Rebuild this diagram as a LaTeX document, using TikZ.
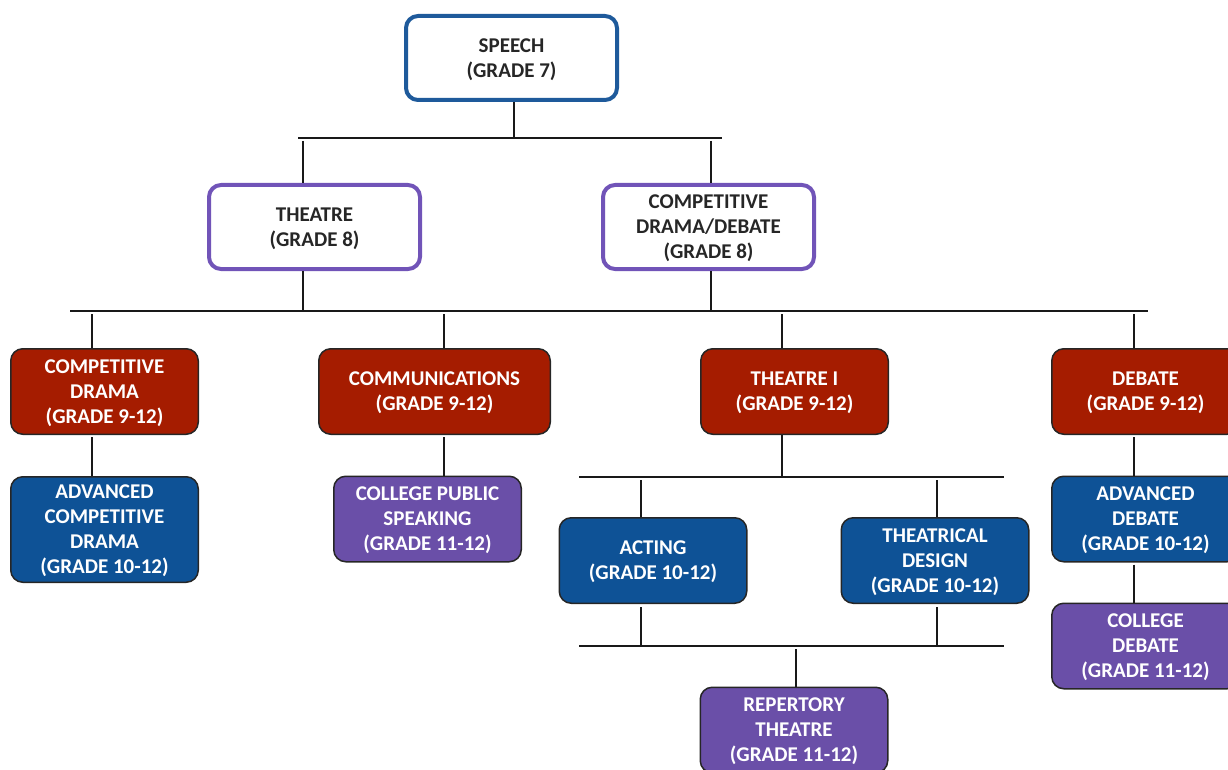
\documentclass[tikz,border=0pt]{standalone}
\usepackage{fontspec}
\setmainfont{Carlito}
\definecolor{speechblue}{RGB}{30,90,155}
\definecolor{rowpurple}{RGB}{113,84,184}
\definecolor{coursered}{RGB}{165,28,0}
\definecolor{courseblue}{RGB}{14,82,150}
\definecolor{coursepurple}{RGB}{106,79,168}
\definecolor{labelgrey}{RGB}{38,38,38}
\begin{document}
\begin{tikzpicture}[x=1pt, y=-1pt, line join=round,
		box/.style={rectangle, rounded corners=12pt, align=center, inner sep=0pt, text depth=-3pt, font=\bfseries\fontsize{21}{25}\selectfont},
		head/.style={box, draw=speechblue, line width=4pt, fill=white, text=labelgrey, minimum width=211pt, minimum height=84pt},
		grade8/.style={head, draw=rowpurple},
		course/.style={box, draw=black!85, line width=1.5pt, text=white, minimum width=187.5pt, minimum height=85.5pt},
		redcourse/.style={course, fill=coursered},
		bluecourse/.style={course, fill=courseblue},
		purplecourse/.style={course, fill=coursepurple},
		link/.style={draw=black!90, line width=1.4pt}]
	\useasboundingbox (0,0) rectangle (1228,770);
	\node[head] (speech) at (511.5,58) {SPEECH\\(GRADE 7)};
	\node[grade8] (theatre) at (314.5,227) {THEATRE\\(GRADE 8)};
	\node[grade8] (compdd) at (708.5,227) {COMPETITIVE\\DRAMA/DEBATE\\(GRADE 8)};
	\node[redcourse] (compdrama) at (104.5,391.5) {COMPETITIVE\\DRAMA\\(GRADE 9-12)};
	\node[redcourse, minimum width=231.5pt] (comms) at (434.5,391.5) {COMMUNICATIONS\\(GRADE 9-12)};
	\node[redcourse] (theatrei) at (794.5,391.5) {THEATRE I\\(GRADE 9-12)};
	\node[redcourse] (debate) at (1145.5,391.5) {DEBATE\\(GRADE 9-12)};
	\node[bluecourse, minimum height=105.5pt] (advcomp) at (104.5,529.5) {ADVANCED\\COMPETITIVE\\DRAMA\\(GRADE 10-12)};
	\node[purplecourse] (cps) at (427.5,519) {COLLEGE PUBLIC\\SPEAKING\\(GRADE 11-12)};
	\node[bluecourse] (acting) at (653,560.5) {ACTING\\(GRADE 10-12)};
	\node[bluecourse] (design) at (935,560.5) {THEATRICAL\\DESIGN\\(GRADE 10-12)};
	\node[purplecourse] (repertory) at (794,730) {REPERTORY\\THEATRE\\(GRADE 11-12)};
	\node[bluecourse] (advdebate) at (1145.5,519) {ADVANCED\\DEBATE\\(GRADE 10-12)};
	\node[purplecourse] (colldebate) at (1145.5,646) {COLLEGE\\DEBATE\\(GRADE 11-12)};
	\coordinate (bus1w) at (298,138); \coordinate (bus1e) at (722,138);
	\coordinate (bus2w) at (70,311); \coordinate (bus2e) at (1148,311);
	\coordinate (bus3w) at (579,477); \coordinate (bus3e) at (1004,477);
	\coordinate (bus4w) at (579,646); \coordinate (bus4e) at (1004,646);
	\foreach \i in {1,...,4} \draw[link] (bus\i w) -- (bus\i e);
	\draw[link] ([xshift=2.5pt]speech.south) -- ([xshift=2.5pt]speech.south |- bus1w);
	\foreach \n/\d in {theatre/-11.5pt, compdd/2.5pt} {
		\draw[link, shorten <=3pt] ([xshift=\d]\n.north |- bus1w) -- ([xshift=\d]\n.north);
		\draw[link] ([xshift=\d]\n.south) -- ([xshift=\d]\n.south |- bus2w);
	}
	\foreach \n/\d in {compdrama/-12.5pt, comms/9.5pt, theatrei/-12.5pt, debate/-11.5pt}
		\draw[link, shorten <=3pt] ([xshift=\d]\n.north |- bus2w) -- ([xshift=\d]\n.north);
	\foreach \a/\b/\d in {compdrama/advcomp/-12.5pt, comms/cps/9.5pt, debate/advdebate/-11.5pt, advdebate/colldebate/-11.5pt}
		\draw[link, shorten <=2pt] ([xshift=\d]\a.south) -- ([xshift=\d]\a.south |- \b.north);
	\draw[link] ([xshift=-12.5pt]theatrei.south) -- ([xshift=-12.5pt]theatrei.south |- bus3w);
	\foreach \n/\d in {acting/-12pt, design/2pt} {
		\draw[link, shorten <=3pt] ([xshift=\d]\n.north |- bus3w) -- ([xshift=\d]\n.north);
		\draw[link, shorten <=3pt] ([xshift=\d]\n.south) -- ([xshift=\d]\n.south |- bus4w);
	}
	\draw[link, shorten <=3pt] ([xshift=2pt]repertory.north |- bus4w) -- ([xshift=2pt]repertory.north);
\end{tikzpicture}
\end{document}
